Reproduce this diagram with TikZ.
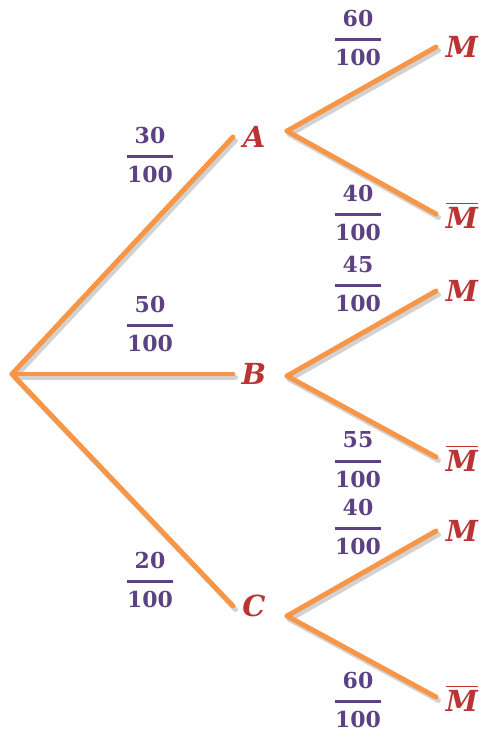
\documentclass[tikz,border=0pt]{standalone}
\usepackage{amsmath}
\usepackage{fontspec}
\setmainfont{DejaVu Serif}[
  BoldFont=DejaVu Serif Bold,
  BoldItalicFont=DejaVu Serif Bold Italic]
\usepackage{tikz}
\usetikzlibrary{calc}

\definecolor{branchorange}{RGB}{247,150,70}
\definecolor{probpurple}{RGB}{92,66,130}
\definecolor{eventred}{RGB}{186,52,52}

\tikzset{
  branch/.style={line width=2.8pt, draw=branchorange, line cap=round},
  branchshadow/.style={line width=2.8pt, draw=gray!35, line cap=round, transform canvas={shift={(0.05,-0.07)}}},
  prob/.style={text=probpurple, font=\fontsize{12.5}{15}\selectfont\bfseries, inner sep=0pt},
  event/.style={text=eventred, font=\fontsize{16.5}{18}\selectfont\bfseries\itshape, inner sep=0pt}
}

\newcommand{\pr}[2]{$\genfrac{}{}{1.7pt}{0}{\text{\bfseries #1}\rule[-1.5pt]{0pt}{0pt}}{\text{\bfseries #2}}$}
\newcommand{\nonM}{$\overline{\text{\bfseries\itshape M}}$}

\begin{document}
\begin{tikzpicture}[line join=round]

    \useasboundingbox (0,0) rectangle (9.92,-14.94);

    % Root
    \coordinate (O) at (0.24,-7.48);

    % First level ends / starts
    \coordinate (Ae) at (4.66,-2.74);
    \coordinate (As) at (5.74,-2.62);
    \coordinate (Be) at (4.66,-7.48);
    \coordinate (Bs) at (5.74,-7.52);
    \coordinate (Ce) at (4.66,-12.12);
    \coordinate (Cs) at (5.74,-12.32);

    % Second level ends
    \coordinate (AM) at (8.72,-0.94);
    \coordinate (AN) at (8.72,-4.28);
    \coordinate (BM) at (8.72,-5.82);
    \coordinate (BN) at (8.72,-9.14);
    \coordinate (CM) at (8.72,-10.62);
    \coordinate (CN) at (8.72,-13.94);

    % Shadows, then branches
    \foreach \p/\q in {O/Ae,O/Be,O/Ce,As/AM,As/AN,Bs/BM,Bs/BN,Cs/CM,Cs/CN}
      \draw[branchshadow] (\p) -- (\q);
    \foreach \p/\q in {O/Ae,O/Be,O/Ce,As/AM,As/AN,Bs/BM,Bs/BN,Cs/CM,Cs/CN}
      \draw[branch] (\p) -- (\q);

    % Events
    \node[event] (A) at (5.08,-2.74) {A};
    \node[event] (B) at (5.08,-7.48) {B};
    \node[event] (C) at (5.08,-12.12) {C};
    \node[event] (M1) at (9.24,-0.94) {M};
    \node[event] (N1) at (9.24,-4.30) {\nonM};
    \node[event] (M2) at (9.24,-5.82) {M};
    \node[event] (N2) at (9.24,-9.16) {\nonM};
    \node[event] (M3) at (9.24,-10.62) {M};
    \node[event] (N3) at (9.24,-13.96) {\nonM};

    % Probabilities
    \node[prob] (pA) at (3.0,-3.1) {\pr{30}{100}};
    \node[prob] (pB) at (3.0,-6.48) {\pr{50}{100}};
    \node[prob] (pC) at (3.0,-11.6) {\pr{20}{100}};
    \node[prob] (pAM) at (7.16,-0.76) {\pr{60}{100}};
    \node[prob] (pAN) at (7.16,-4.26) {\pr{40}{100}};
    \node[prob] (pBM) at (7.16,-5.68) {\pr{45}{100}};
    \node[prob] (pBN) at (7.16,-9.2) {\pr{55}{100}};
    \node[prob] (pCM) at (7.16,-10.54) {\pr{40}{100}};
    \node[prob] (pCN) at (7.16,-14.0) {\pr{60}{100}};

\end{tikzpicture}
\end{document}
